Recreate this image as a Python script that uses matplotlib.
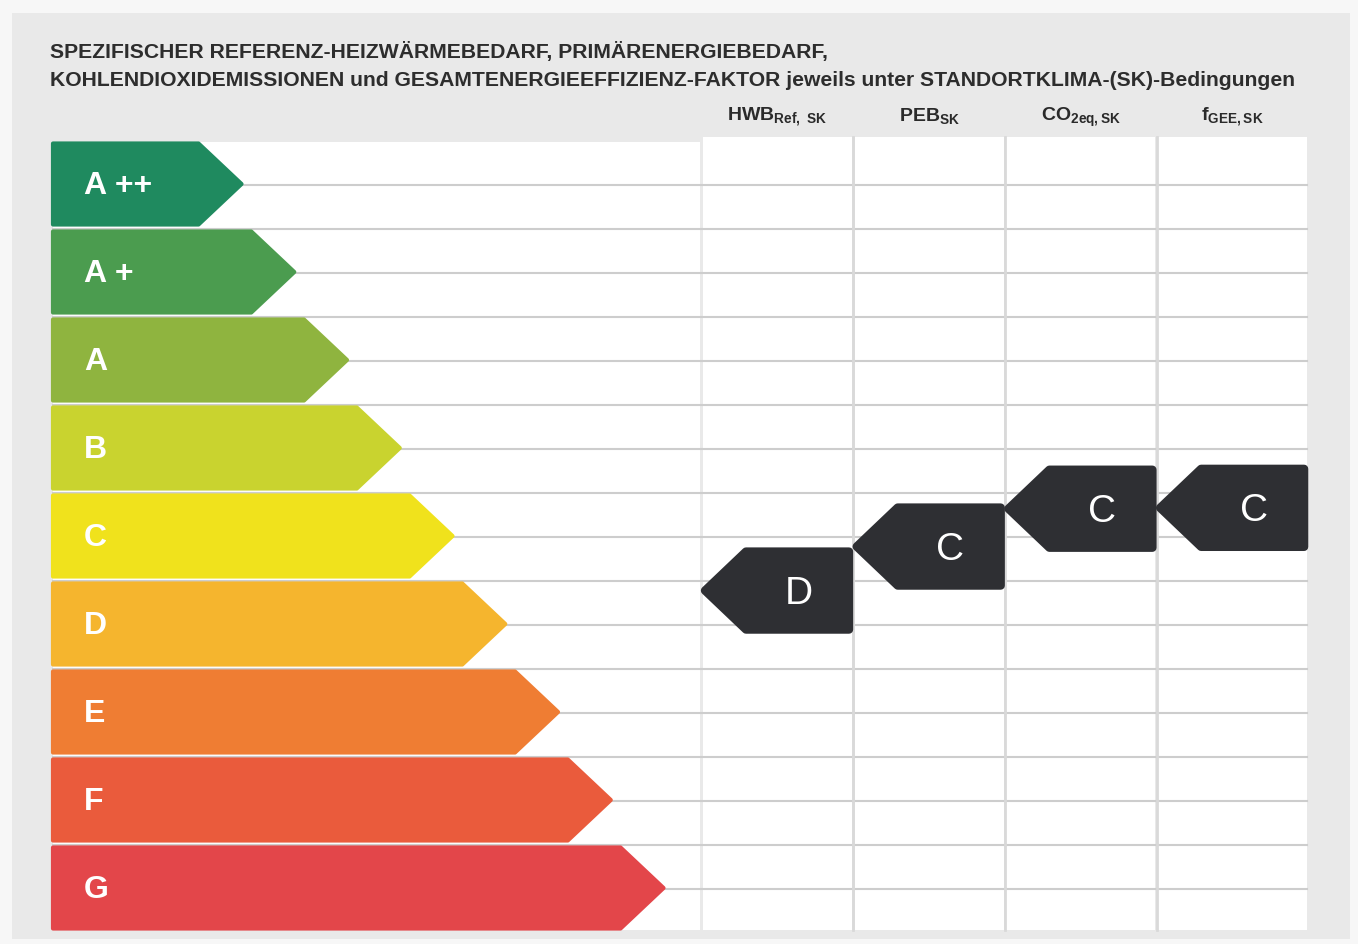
import matplotlib
matplotlib.use('Agg')
import matplotlib.pyplot as plt
from matplotlib.patches import Polygon, Rectangle
from matplotlib import font_manager

CLASSES = ['A ++', 'A +', 'A', 'B', 'C', 'D', 'E', 'F', 'G']
CLASS_COLORS = ['#1f8a5f', '#4b9c4f', '#8fb43f', '#c9d32f', '#f0e21c',
                '#f5b52e', '#ef7d33', '#ea5b3c', '#e3464a']

TITLE_1 = 'SPEZIFISCHER REFERENZ-HEIZWÄRMEBEDARF, PRIMÄRENERGIEBEDARF,'
TITLE_2 = ('KOHLENDIOXIDEMISSIONEN und GESAMTENERGIEEFFIZIENZ-FAKTOR '
           'jeweils unter STANDORTKLIMA-(SK)-Bedingungen')

COLUMNS = [r'$\mathrm{HWB}_{\mathrm{Ref,\ SK}}$', r'$\mathrm{PEB}_{\mathrm{SK}}$',
           r'$\mathrm{CO}_{\mathrm{2eq,SK}}$', r'$\mathrm{f}_{\mathrm{GEE,SK}}$']
RATINGS = ['D', 'C', 'C', 'C']
# vertical position of each marker on the class scale (0 = A++ ... 8 = G)
SCALE_POS = [4.62, 4.12, 3.69, 3.68]

W, H = 1358, 945
TOP = 143
PITCH = 88
ROW_H = 84
LEFT = 53
TIP0 = 243
TIP_STEP = 52.75
POINT = 43
COL_X0 = 703
COL_PITCH = 151.7
COL_W = 149
MARK_W = 148
DARK = '#2e2f33'
GRID = '#cdcdcd'


def pick_font(names):
    have = {f.name for f in font_manager.fontManager.ttflist}
    for n in names:
        if n in have:
            return n
    return 'DejaVu Sans'


title_font = pick_font(['Liberation Sans Narrow', 'Liberation Sans', 'Arial'])
body_font = pick_font(['Liberation Sans', 'Arial'])
title_size = 13.5 if 'Narrow' in title_font else 15.2
plt.rcParams['mathtext.fontset'] = 'custom'
plt.rcParams['mathtext.rm'] = body_font + ':bold'

fig = plt.figure(figsize=(W / 100, H / 100), dpi=100)
fig.patch.set_facecolor('#f7f7f7')
ax = fig.add_axes([0, 0, 1, 1])
ax.set_xlim(0, W)
ax.set_ylim(H, 0)
ax.axis('off')

# panel and table background
ax.add_patch(Rectangle((12, 14), 1338, 926, facecolor='#e9e9e9', edgecolor='none'))
n = len(CLASSES)
bottom = TOP + (n - 1) * PITCH + ROW_H
ax.add_patch(Rectangle((LEFT, TOP), COL_X0 - 3 - LEFT, bottom - TOP,
                       facecolor='white', edgecolor='none'))
for j in range(len(COLUMNS)):
    x0 = COL_X0 + j * COL_PITCH
    ax.add_patch(Rectangle((x0, TOP - 5), COL_W, bottom - TOP + 5,
                           facecolor='white', edgecolor='none'))
for k in range(1, 2 * n):
    y = TOP + k * PITCH / 2 - 1
    ax.plot([LEFT, COL_X0 + 3 * COL_PITCH + COL_W], [y, y], color=GRID, lw=1.5, zorder=1)
for j in range(1, len(COLUMNS)):
    x = COL_X0 + j * COL_PITCH - 1.5
    ax.plot([x, x], [TOP - 5, bottom], color='#d9d9d9', lw=2, zorder=1)

# class arrows
for i, (lab, col) in enumerate(zip(CLASSES, CLASS_COLORS)):
    y0 = TOP + i * PITCH + 1.5
    y1 = y0 + ROW_H - 3
    tip = TIP0 + i * TIP_STEP - 1.5
    pts = [(LEFT, y0), (tip - POINT, y0), (tip, (y0 + y1) / 2),
           (tip - POINT, y1), (LEFT, y1)]
    ax.add_patch(Polygon(pts, closed=True, facecolor=col, edgecolor=col,
                         lw=3, joinstyle='round', zorder=2))
    ax.text(LEFT + 31, (y0 + y1) / 2 + 1, lab, color='white', fontsize=23,
            fontweight='bold', family=body_font, va='center', ha='left', zorder=3)

# rating markers
for j, (r, p) in enumerate(zip(RATINGS, SCALE_POS)):
    x0 = COL_X0 + j * COL_PITCH + 2
    x1 = x0 + MARK_W - 4
    yc = TOP + ROW_H / 2 + p * PITCH
    h = ROW_H / 2 - 3
    pts = [(x0, yc), (x0 + POINT - 2, yc - h), (x1, yc - h),
           (x1, yc + h), (x0 + POINT - 2, yc + h)]
    ax.add_patch(Polygon(pts, closed=True, facecolor=DARK, edgecolor=DARK,
                         lw=6, joinstyle='round', zorder=4))
    ax.text((x0 + POINT + x1) / 2, yc + 2, r, color='white', fontsize=28,
            family=body_font, ha='center', va='center', zorder=5)

# column headers
for j, lab in enumerate(COLUMNS):
    xc = COL_X0 + j * COL_PITCH + COL_W / 2
    ax.text(xc, 117, lab, fontsize=14, color='#2a2a2a', ha='center', va='center')

# title
ax.text(50, 52, TITLE_1, fontsize=title_size, fontweight='bold', family=title_font,
        color='#2d2d2d', ha='left', va='center')
ax.text(50, 80, TITLE_2, fontsize=title_size, fontweight='bold', family=title_font,
        color='#2d2d2d', ha='left', va='center')

fig.savefig('out.png', dpi=100, facecolor=fig.get_facecolor())
